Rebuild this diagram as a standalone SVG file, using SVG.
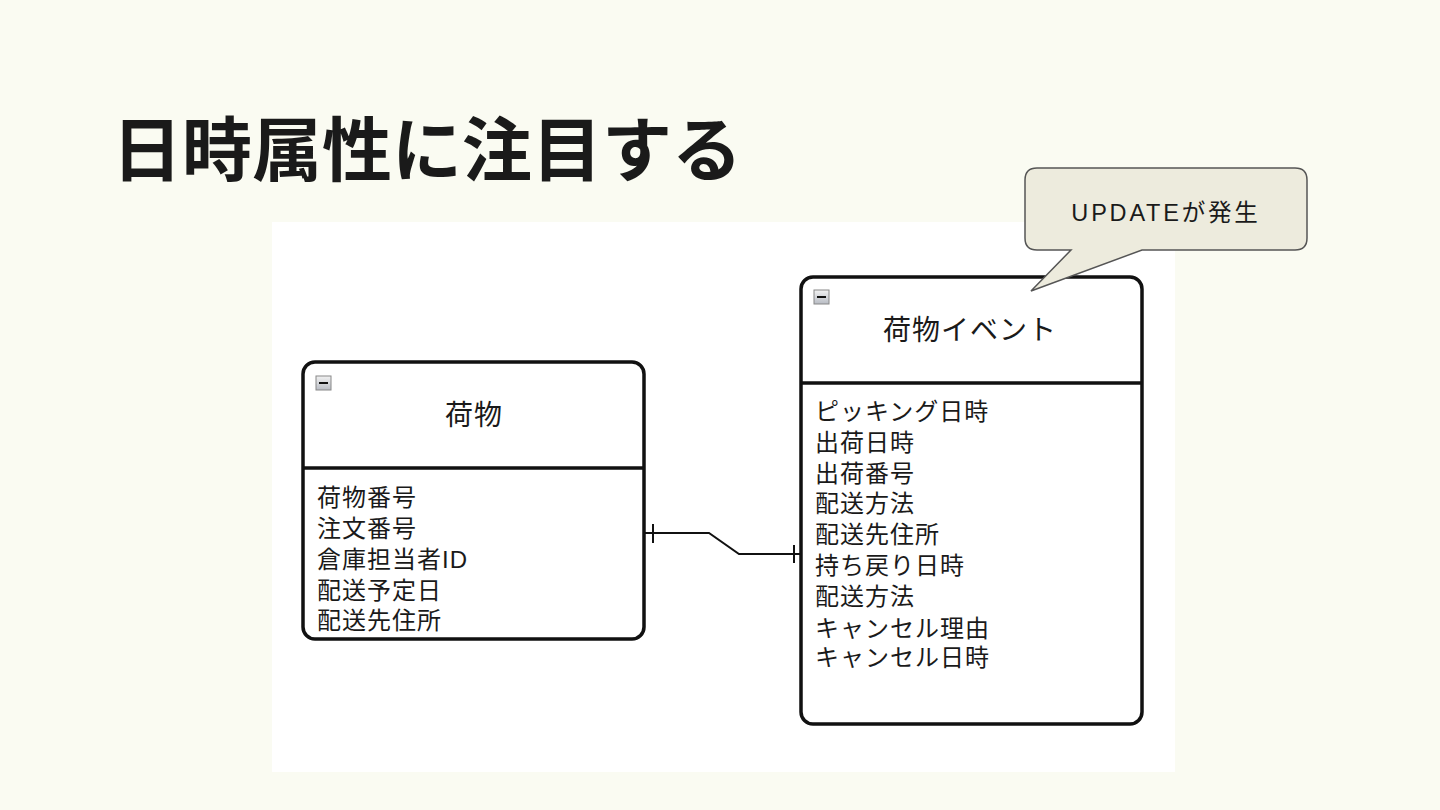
<svg xmlns="http://www.w3.org/2000/svg" width="1440" height="810" viewBox="0 0 1440 810">
<defs>
<linearGradient id="ig" x1="0" y1="0" x2="0" y2="1"><stop offset="0" stop-color="#f2f2f2"/><stop offset="1" stop-color="#b8bcc4"/></linearGradient>
<style>
.jp{font-family:"Liberation Sans","Noto Sans CJK JP",sans-serif;fill:#1a1a1a}
.box{fill:#fff;stroke:#111;stroke-width:3.5}
.div{stroke:#111;stroke-width:3.5}
.row{font-size:24px;letter-spacing:1px}
.hd{font-size:28px;letter-spacing:1px;text-anchor:middle}
.ln{fill:none;stroke:#111;stroke-width:2}
.icon{fill:url(#ig);stroke:#888;stroke-width:1}
</style>
</defs>
<rect width="1440" height="810" fill="#fafbf2"/>
<text class="jp" x="112" y="176" font-size="70" font-weight="bold" fill="#1e1e1e">日時属性に注目する</text>
<rect x="272" y="222" width="903" height="550" fill="#ffffff"/>
<g id="connectors">
<polyline class="ln" points="644,533 709,533 739,554 801,554"/>
<line class="ln" x1="653" y1="524" x2="653" y2="543"/>
<line class="ln" x1="794" y1="545" x2="794" y2="563"/>
</g>
<g id="node-nimotsu">
<rect class="box" x="303" y="362" width="341" height="277" rx="12"/>
<line class="div" x1="303" y1="468" x2="644" y2="468"/>
<rect class="icon" x="316" y="376" width="15" height="14"/>
<line x1="319" y1="383" x2="328" y2="383" stroke="#111" stroke-width="2"/>
<text class="jp hd" x="474" y="425">荷物</text>
<text class="jp row" x="317" y="506">荷物番号</text>
<text class="jp row" x="317" y="537">注文番号</text>
<text class="jp row" x="317" y="568">倉庫担当者ID</text>
<text class="jp row" x="317" y="599">配送予定日</text>
<text class="jp row" x="317" y="629">配送先住所</text>
</g>
<g id="node-event">
<rect class="box" x="801" y="277" width="341" height="447" rx="12"/>
<line class="div" x1="801" y1="383" x2="1142" y2="383"/>
<rect class="icon" x="814" y="290" width="15" height="14"/>
<line x1="817" y1="297" x2="826" y2="297" stroke="#111" stroke-width="2"/>
<text class="jp hd" x="970" y="340">荷物イベント</text>
<text class="jp row" x="815" y="420">ピッキング日時</text>
<text class="jp row" x="815" y="451">出荷日時</text>
<text class="jp row" x="815" y="482">出荷番号</text>
<text class="jp row" x="815" y="512">配送方法</text>
<text class="jp row" x="815" y="543">配送先住所</text>
<text class="jp row" x="815" y="574">持ち戻り日時</text>
<text class="jp row" x="815" y="605">配送方法</text>
<text class="jp row" x="815" y="637">キャンセル理由</text>
<text class="jp row" x="815" y="666">キャンセル日時</text>
</g>
<g id="callout">
<path d="M1037,168 H1295 Q1307,168 1307,180 V238 Q1307,250 1295,250 H1142 L1031,291 L1071,250 H1037 Q1025,250 1025,238 V180 Q1025,168 1037,168 Z" fill="#edebdd" stroke="#555" stroke-width="1.5"/>
<text class="jp" x="1166" y="221" font-size="23.5" letter-spacing="2.8" text-anchor="middle">UPDATEが発生</text>
</g>
</svg>
